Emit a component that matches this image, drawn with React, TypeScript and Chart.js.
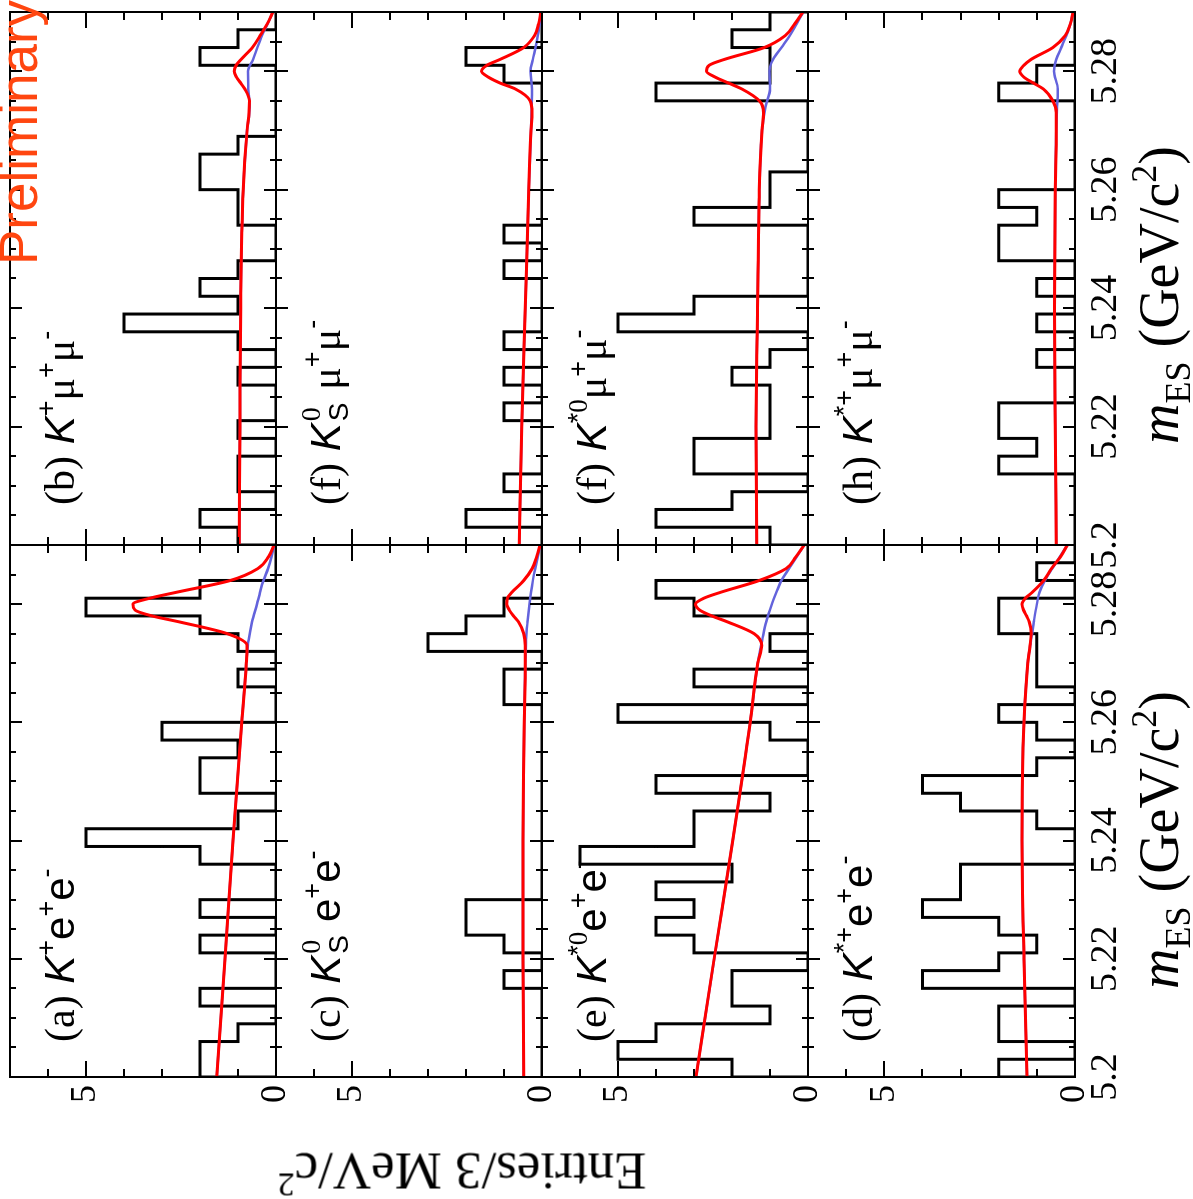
import React, { useEffect, useRef } from 'react';
import { Chart, registerables } from 'chart.js';

Chart.register(...registerables);

// ---------------- data ----------------
// lower edges of the 3 MeV/c^2 bins (mES axis)
const BIN_LOW = [5.200, 5.203, 5.206, 5.209, 5.212, 5.215, 5.218, 5.221, 5.224, 5.227,
  5.230, 5.233, 5.236, 5.239, 5.242, 5.245, 5.248, 5.251, 5.254, 5.257,
  5.260, 5.263, 5.266, 5.269, 5.272, 5.275, 5.278, 5.281, 5.284, 5.287];
const M_LOW = 5.2;
const M_HIGH = 5.29;
const Y_MAX = 7;

const X_TICK_VALUES = [5.2, 5.22, 5.24, 5.26, 5.28];
const X_TICK_TEXT = ['5.2', '5.22', '5.24', '5.26', '5.28'];
const X_MINOR = [5.205, 5.21, 5.215, 5.225, 5.23, 5.235, 5.245, 5.25, 5.255, 5.265, 5.27, 5.275, 5.285];
const Y_TICK_VALUES = [0, 5];
const Y_TICK_TEXT = ['0', '5'];
const Y_MINOR = [1, 2, 3, 4, 6];

// entries per bin
const countsKee = [2, 2, 1, 0, 2, 0, 0, 2, 0, 2, 0, 0, 2, 5, 1, 0, 2, 2, 1, 3, 0, 0, 1, 0, 1, 2, 5, 2, 0, 0];
const countsKmm = [1, 2, 0, 1, 1, 0, 1, 0, 0, 1, 0, 1, 4, 1, 2, 1, 0, 0, 1, 1, 2, 2, 1, 0, 0, 0, 0, 2, 1, 0];
const countsKsee = [0, 0, 0, 0, 0, 1, 0, 1, 2, 2, 0, 0, 0, 0, 0, 0, 0, 0, 0, 0, 0, 1, 1, 0, 3, 2, 1, 0, 0, 0];
const countsKsmm = [0, 2, 0, 1, 0, 0, 0, 1, 0, 1, 0, 1, 0, 0, 0, 1, 0, 1, 0, 0, 0, 0, 0, 0, 0, 0, 1, 2, 0, 0];
const countsKst0ee = [2, 5, 4, 1, 2, 2, 0, 3, 4, 3, 4, 2, 6, 3, 3, 1, 4, 0, 0, 1, 5, 0, 3, 0, 1, 0, 3, 4, 0, 0];
const countsKst0mm = [1, 4, 2, 0, 3, 3, 1, 1, 1, 2, 1, 0, 5, 3, 0, 0, 0, 0, 3, 1, 1, 0, 0, 0, 0, 4, 1, 1, 2, 1];
const countsKstpee = [2, 0, 2, 2, 0, 4, 2, 1, 2, 4, 3, 3, 0, 0, 1, 3, 4, 1, 0, 1, 2, 0, 1, 1, 1, 2, 2, 0, 1, 0];
const countsKstpmm = [0, 0, 0, 0, 2, 1, 2, 2, 0, 0, 1, 0, 1, 0, 1, 0, 2, 2, 1, 2, 0, 0, 0, 0, 0, 2, 1, 0, 0, 0];

// fit curves
const RED_X = [5.200, 5.220, 5.240, 5.260, 5.270, 5.273, 5.275, 5.277, 5.278, 5.279, 5.280, 5.281, 5.282, 5.284, 5.286, 5.288, 5.290];
const BLUE_X = [5.200, 5.220, 5.240, 5.260, 5.270, 5.274, 5.277, 5.280, 5.282, 5.284, 5.286, 5.288, 5.290];

const redKee = [1.56, 1.34, 1.13, 0.90, 0.78, 0.76, 1.28, 2.55, 3.26, 3.71, 3.76, 3.32, 2.62, 1.20, 0.48, 0.20, 0.05];
const blueKee = [1.56, 1.34, 1.13, 0.90, 0.78, 0.72, 0.63, 0.50, 0.42, 0.33, 0.21, 0.12, 0.05];
const redKmm = [0.97, 0.95, 0.93, 0.86, 0.76, 0.71, 0.70, 0.82, 0.93, 1.04, 1.10, 1.05, 0.92, 0.62, 0.42, 0.23, 0.08];
const blueKmm = [0.97, 0.95, 0.93, 0.86, 0.76, 0.69, 0.73, 0.74, 0.60, 0.49, 0.37, 0.22, 0.08];
const redKsee = [0.48, 0.50, 0.50, 0.47, 0.44, 0.44, 0.48, 0.62, 0.75, 0.86, 0.93, 0.91, 0.79, 0.48, 0.26, 0.14, 0.05];
const blueKsee = [0.48, 0.50, 0.50, 0.47, 0.44, 0.42, 0.38, 0.33, 0.29, 0.24, 0.18, 0.11, 0.05];
const redKsmm = [0.60, 0.53, 0.44, 0.35, 0.29, 0.26, 0.31, 0.70, 1.10, 1.41, 1.59, 1.45, 1.10, 0.48, 0.20, 0.09, 0.03];
const blueKsmm = [0.60, 0.53, 0.44, 0.35, 0.29, 0.27, 0.26, 0.30, 0.24, 0.17, 0.11, 0.06, 0.03];
const redKst0ee = [2.95, 2.47, 1.98, 1.52, 1.32, 1.22, 1.42, 2.12, 2.53, 2.85, 2.96, 2.74, 2.30, 1.28, 0.58, 0.32, 0.10];
const blueKst0ee = [2.95, 2.47, 1.98, 1.52, 1.32, 1.20, 1.10, 0.95, 0.83, 0.70, 0.50, 0.30, 0.10];
const redKst0mm = [1.35, 1.37, 1.33, 1.28, 1.21, 1.17, 1.28, 1.74, 2.09, 2.44, 2.67, 2.60, 2.20, 1.15, 0.60, 0.35, 0.13];
const blueKst0mm = [1.35, 1.37, 1.33, 1.28, 1.21, 1.12, 1.00, 1.01, 0.92, 0.70, 0.48, 0.30, 0.12];
const redKstpee = [1.26, 1.34, 1.39, 1.34, 1.24, 1.18, 1.15, 1.20, 1.27, 1.35, 1.39, 1.30, 1.12, 0.82, 0.62, 0.38, 0.20];
const blueKstpee = [1.26, 1.34, 1.39, 1.34, 1.24, 1.15, 1.08, 1.00, 0.93, 0.79, 0.60, 0.40, 0.20];
const redKstpmm = [0.49, 0.52, 0.54, 0.52, 0.49, 0.49, 0.58, 0.83, 1.09, 1.34, 1.45, 1.34, 1.15, 0.58, 0.26, 0.12, 0.05];
const blueKstpmm = [0.49, 0.52, 0.54, 0.52, 0.49, 0.47, 0.45, 0.55, 0.49, 0.36, 0.23, 0.12, 0.05];

// ---------------- layout (unrotated figure, 1199 x 1193) ----------------
const FIG_W = 1199;
const FIG_H = 1193;
const COL_X = [122, 654, 1187];
const ROW_Y = [10, 276, 542, 808, 1075];

const SERIF = '"Liberation Serif", "Times New Roman", Times, serif';
const SANS = '"Liberation Sans", Arial, Helvetica, sans-serif';
const RED = '#ff0000';
const BLUE = '#6363dc';

type PanelCfg = {
  row: number; col: number; counts: number[]; red: number[]; blue: number[];
  tag: string; kaon: 'Kp' | 'Ks' | 'Kst0' | 'Kstp'; lep: 'e' | 'mu';
};

const PANELS: PanelCfg[] = [
  { row: 0, col: 0, counts: countsKee, red: redKee, blue: blueKee, tag: '(a)', kaon: 'Kp', lep: 'e' },
  { row: 0, col: 1, counts: countsKmm, red: redKmm, blue: blueKmm, tag: '(b)', kaon: 'Kp', lep: 'mu' },
  { row: 1, col: 0, counts: countsKsee, red: redKsee, blue: blueKsee, tag: '(c)', kaon: 'Ks', lep: 'e' },
  { row: 1, col: 1, counts: countsKsmm, red: redKsmm, blue: blueKsmm, tag: '(f)', kaon: 'Ks', lep: 'mu' },
  { row: 2, col: 0, counts: countsKst0ee, red: redKst0ee, blue: blueKst0ee, tag: '(e)', kaon: 'Kst0', lep: 'e' },
  { row: 2, col: 1, counts: countsKst0mm, red: redKst0mm, blue: blueKst0mm, tag: '(f)', kaon: 'Kst0', lep: 'mu' },
  { row: 3, col: 0, counts: countsKstpee, red: redKstpee, blue: blueKstpee, tag: '(d)', kaon: 'Kstp', lep: 'e' },
  { row: 3, col: 1, counts: countsKstpmm, red: redKstpmm, blue: blueKstpmm, tag: '(h)', kaon: 'Kstp', lep: 'mu' },
];

// frame, inward ticks on all sides, and tick labels (placed through the chart scales)
const rootFramePlugin = {
  id: 'rootFrame',
  afterDatasetsDraw(chart: any, _args: any, opts: any) {
    const { ctx, chartArea: a, scales } = chart;
    const xs = scales.x;
    const ys = scales.y;
    ctx.save();
    ctx.strokeStyle = '#000';
    ctx.lineWidth = 2;
    ctx.beginPath();
    const xt = (v: number, len: number) => {
      const p = Math.round(xs.getPixelForValue(v));
      ctx.moveTo(p, a.bottom); ctx.lineTo(p, a.bottom - len);
      ctx.moveTo(p, a.top); ctx.lineTo(p, a.top + len);
    };
    const yt = (v: number, len: number) => {
      const p = Math.round(ys.getPixelForValue(v));
      ctx.moveTo(a.left, p); ctx.lineTo(a.left + len, p);
      ctx.moveTo(a.right, p); ctx.lineTo(a.right - len, p);
    };
    X_TICK_VALUES.forEach((v) => xt(v, 12));
    X_MINOR.forEach((v) => xt(v, 6));
    Y_TICK_VALUES.forEach((v) => yt(v, 16));
    Y_MINOR.forEach((v) => yt(v, 8));
    ctx.stroke();
    ctx.strokeRect(a.left, a.top, a.right - a.left, a.bottom - a.top);

    ctx.fillStyle = '#000';
    ctx.font = `36px ${SERIF}`;
    if (opts.showY) {
      ctx.textAlign = 'right';
      ctx.textBaseline = 'middle';
      Y_TICK_VALUES.forEach((v, i) => ctx.fillText(Y_TICK_TEXT[i], a.left - 8, ys.getPixelForValue(v)));
    }
    if (opts.showX) {
      ctx.font = `38px ${SERIF}`;
      ctx.textAlign = 'center';
      ctx.textBaseline = 'top';
      X_TICK_VALUES.forEach((v, i) => ctx.fillText(X_TICK_TEXT[i], xs.getPixelForValue(v), a.bottom + 12));
    }
    ctx.restore();
  },
};

function PanelChart({ cfg }: { cfg: PanelCfg }) {
  const ref = useRef<HTMLCanvasElement | null>(null);
  const padL = cfg.col === 0 ? 70 : (cfg.row === 3 ? 50 : 10);
  const padR = 10;
  const padT = 22;
  const padB = cfg.row === 3 ? 62 : 22;
  const w = COL_X[cfg.col + 1] - COL_X[cfg.col] + padL + padR;
  const h = ROW_Y[cfg.row + 1] - ROW_Y[cfg.row] + padT + padB;

  useEffect(() => {
    if (!ref.current) return;
    const hist = [{ x: M_LOW, y: 0 }, ...BIN_LOW.map((x, i) => ({ x, y: cfg.counts[i] })),
      { x: M_HIGH, y: cfg.counts[cfg.counts.length - 1] }, { x: M_HIGH, y: 0 }];
    const red = RED_X.map((x, i) => ({ x, y: cfg.red[i] }));
    const blue = BLUE_X.map((x, i) => ({ x, y: cfg.blue[i] }));
    const chart = new Chart(ref.current, {
      type: 'line',
      data: {
        datasets: [
          { data: red, borderColor: RED, borderWidth: 3, pointRadius: 0, cubicInterpolationMode: 'monotone', fill: false, order: 0 },
          { data: blue, borderColor: BLUE, borderWidth: 2.5, pointRadius: 0, cubicInterpolationMode: 'monotone', fill: false, order: 1 },
          { data: hist, borderColor: '#000', borderWidth: 3, pointRadius: 0, stepped: 'before', fill: false, order: 2, borderJoinStyle: 'miter' },
        ] as any,
      },
      options: {
        animation: false,
        responsive: false,
        devicePixelRatio: 1,
        events: [],
        layout: { padding: { left: padL, right: padR, top: padT, bottom: padB } },
        scales: {
          x: { type: 'linear', min: M_LOW, max: M_HIGH, display: false },
          y: { type: 'linear', min: 0, max: Y_MAX, display: false },
        },
        plugins: {
          legend: { display: false },
          tooltip: { enabled: false },
          rootFrame: { showY: cfg.col === 0, showX: cfg.row === 3 },
        } as any,
      },
      plugins: [rootFramePlugin],
    });
    return () => chart.destroy();
  }, []);

  return (
    <canvas
      ref={ref}
      width={w}
      height={h}
      style={{ position: 'absolute', left: COL_X[cfg.col] - padL, top: ROW_Y[cfg.row] - padT, width: w, height: h }}
    />
  );
}

function Sup({ children, serif = false }: { children: React.ReactNode; serif?: boolean }) {
  return (
    <span style={{ fontSize: 27, position: 'relative', top: -19, fontFamily: serif ? SERIF : SANS, fontStyle: 'normal' }}>
      {children}
    </span>
  );
}

function PanelLabel({ cfg }: { cfg: PanelCfg }) {
  const left = COL_X[cfg.col] + (cfg.col === 0 ? 35 : 40);
  const top = ROW_Y[cfg.row] + 29;
  let kaon: React.ReactNode = null;
  const K = <span style={{ fontStyle: 'italic', fontFamily: SANS }}>K</span>;
  if (cfg.kaon === 'Kp') kaon = <>{K}<Sup>+</Sup></>;
  if (cfg.kaon === 'Kst0') kaon = <>{K}<Sup>*<span style={{ fontFamily: SERIF }}>0</span></Sup></>;
  if (cfg.kaon === 'Kstp') kaon = <>{K}<Sup>*+</Sup></>;
  if (cfg.kaon === 'Ks') {
    kaon = (
      <>
        {K}
        <span style={{ display: 'inline-block', position: 'relative', width: 22, height: 10 }}>
          <span style={{ position: 'absolute', left: 2, top: -40, fontSize: 28, fontFamily: SERIF }}>0</span>
          <span style={{ position: 'absolute', left: 2, top: -12, fontSize: 28, fontFamily: SANS }}>S</span>
        </span>{' '}
      </>
    );
  }
  const lep = cfg.lep === 'e'
    ? <>e<Sup>+</Sup>e<Sup>-</Sup></>
    : <><span style={{ fontFamily: SERIF }}>μ</span><Sup>+</Sup><span style={{ fontFamily: SERIF }}>μ</span><Sup>-</Sup></>;
  return (
    <div style={{ position: 'absolute', left, top, fontSize: 42, lineHeight: '42px', whiteSpace: 'nowrap', fontFamily: SANS, color: '#000' }}>
      <span style={{ fontFamily: SERIF }}>{cfg.tag}</span>{' '}{kaon}{lep}
    </div>
  );
}

function XTitle({ center }: { center: number }) {
  return (
    <div style={{ position: 'absolute', left: center, top: 1131, transform: 'translateX(-50%)', fontFamily: SERIF, fontSize: 56, lineHeight: '56px', whiteSpace: 'nowrap', color: '#000' }}>
      <i>m</i><span style={{ fontSize: 36, position: 'relative', top: 12 }}>ES</span> (GeV/c<span style={{ fontSize: 36, position: 'relative', top: -22 }}>2</span>)
    </div>
  );
}

export default function App() {
  return (
    <div style={{ position: 'absolute', left: 0, top: 0, width: 1193, height: 1199, overflow: 'hidden', background: '#fff' }}>
      <div
        style={{
          position: 'absolute', left: 0, top: 0, width: FIG_W, height: FIG_H, background: '#fff',
          transformOrigin: '0 0', transform: `translate(0px, ${FIG_W}px) rotate(-90deg)`,
        }}
      >
        {PANELS.map((p, i) => <PanelChart key={i} cfg={p} />)}
        {PANELS.map((p, i) => <PanelLabel key={'l' + i} cfg={p} />)}
        <XTitle center={359} />
        <XTitle center={904} />
        <div style={{ position: 'absolute', left: 31, top: 462, transform: 'translate(-50%, -50%) rotate(-90deg)', fontFamily: SERIF, fontSize: 53, lineHeight: '53px', whiteSpace: 'nowrap', color: '#000' }}>
          Entries/3 MeV/c<span style={{ fontSize: 34, position: 'relative', top: -20 }}>2</span>
        </div>
        <div style={{ position: 'absolute', left: 934, top: -8, fontFamily: SANS, fontSize: 53, lineHeight: '53px', whiteSpace: 'nowrap', color: '#ff4610' }}>
          Preliminary
        </div>
      </div>
    </div>
  );
}
